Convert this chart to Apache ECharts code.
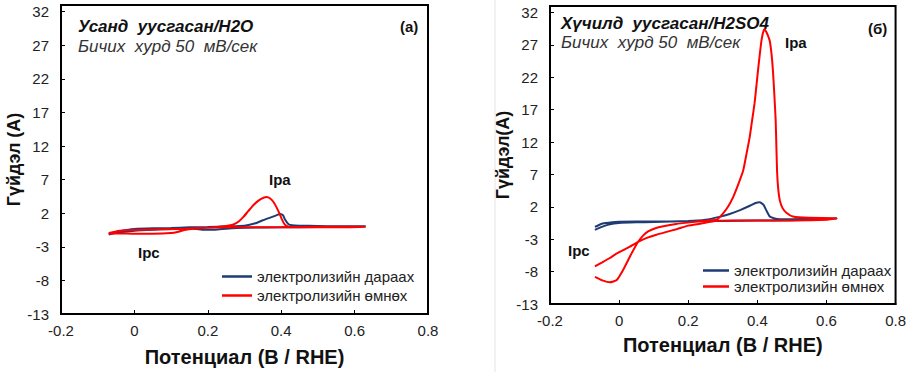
<!DOCTYPE html>
<html>
<head>
<meta charset="utf-8">
<script src="https://cdn.jsdelivr.net/npm/echarts@6/dist/echarts.min.js"></script>
<style>
html,body{margin:0;padding:0;background:#fff;}
#chart{width:909px;height:372px;}
</style>
</head>
<body>
<div id="chart"></div>
<script>
// ---- Data ----
const seriesNames = ['электролизийн дараах', 'электролизийн өмнөх'];
const yTicks = [-13, -8, -3, 2, 7, 12, 17, 22, 27, 32];
const xTicks = [-0.2, 0, 0.2, 0.4, 0.6, 0.8];

// (a) Усанд уусгасан / H2O — after electrolysis
const h2oAfter = [
  [-0.07,-1.1],[-0.05,-0.8],[-0.02,-0.5],[0,-0.35],[0.05,-0.25],[0.1,-0.2],[0.15,-0.1],[0.2,-0.05],
  [0.25,0.05],[0.3,0.15],[0.33,0.5],[0.35,0.95],[0.37,1.35],[0.385,1.65],[0.397,1.9],[0.405,1.7],
  [0.41,1.1],[0.42,0.35],[0.43,0.2],[0.45,0.15],[0.5,0.1],[0.55,0.05],[0.63,0.05],
  [0.6,0.0],[0.5,-0.05],[0.4,-0.1],[0.3,-0.15],[0.25,-0.3],[0.22,-0.45],[0.19,-0.45],[0.16,-0.3],
  [0.1,-0.35],[0.05,-0.45],[0,-0.6],[-0.04,-0.85],[-0.07,-1.15]
];
// (a) before electrolysis
const h2oBefore = [
  [-0.07,-0.95],[-0.05,-0.7],[-0.02,-0.55],[0,-0.5],[0.05,-0.42],[0.09,-0.37],[0.14,-0.3],[0.2,-0.15],
  [0.25,0.1],[0.27,0.33],[0.285,0.8],[0.297,1.45],[0.31,2.3],[0.324,3.2],[0.34,3.95],[0.352,4.3],
  [0.36,4.4],[0.37,4.2],[0.38,3.6],[0.388,2.8],[0.395,2.0],[0.401,1.2],[0.41,0.3],[0.42,0.0],
  [0.45,-0.05],[0.55,0.0],[0.63,0.0],
  [0.55,-0.1],[0.45,-0.1],[0.35,-0.1],[0.25,-0.1],[0.2,-0.15],[0.16,-0.3],[0.14,-0.45],[0.12,-0.75],
  [0.1,-0.95],[0.05,-1.05],[0,-1.05],[-0.04,-1.0],[-0.07,-1.0]
];
// (б) Хүчилд уусгасан / H2SO4 — after electrolysis
const h2so4After = [
  [-0.07,-1.55],[-0.05,-1.1],[-0.03,-0.75],[0,-0.5],[0.05,-0.4],[0.1,-0.35],[0.2,-0.2],[0.25,0.0],
  [0.29,0.45],[0.32,0.9],[0.35,1.5],[0.38,2.2],[0.395,2.6],[0.407,2.7],[0.418,2.3],[0.426,1.45],
  [0.436,0.5],[0.45,0.2],[0.465,0.1],[0.5,0.1],[0.63,0.2],
  [0.55,0.0],[0.45,-0.1],[0.35,-0.15],[0.25,-0.2],[0.15,-0.25],[0.05,-0.25],[0,-0.3],[-0.03,-0.45],
  [-0.05,-0.6],[-0.07,-1.1]
];
// (б) before electrolysis
const h2so4Before = [
  [-0.07,-8.8],[-0.046,-9.4],[-0.027,-9.65],[-0.007,-9.3],[0.012,-7.7],[0.031,-5.7],[0.055,-3.4],
  [0.07,-2.4],[0.084,-1.8],[0.105,-1.3],[0.128,-1.0],[0.165,-0.65],[0.205,-0.4],[0.25,-0.15],[0.282,0.0],
  [0.301,1.0],[0.315,2.0],[0.33,3.5],[0.345,5.5],[0.359,7.6],[0.368,10],[0.378,12.8],[0.385,15.4],
  [0.392,18],[0.397,20.5],[0.402,23.1],[0.407,25.5],[0.412,27.7],[0.417,29.0],[0.421,29.4],[0.426,29.0],
  [0.431,28.4],[0.436,27.6],[0.441,25.6],[0.445,23.1],[0.449,19.5],[0.453,15.4],[0.455,11.5],[0.457,7.6],
  [0.46,5.0],[0.465,3.0],[0.473,1.8],[0.484,1.1],[0.503,0.5],[0.55,0.3],[0.63,0.25],
  [0.6,0.0],[0.5,-0.1],[0.4,-0.1],[0.33,-0.1],[0.282,-0.15],[0.234,-0.6],[0.2,-0.9],[0.166,-1.45],
  [0.135,-1.9],[0.108,-2.3],[0.08,-2.8],[0.055,-3.4],[0.03,-4.2],[0.012,-4.7],[-0.01,-5.3],
  [-0.027,-5.9],[-0.05,-6.6],[-0.07,-7.2]
];

// ---- Chart ----
const FONT = '"Liberation Sans", Arial, sans-serif';
const BLUE = '#1f3b73';
const RED = '#ff0000';

function xAxisCfg(gridIndex, gap) {
  return {
    type: 'value', gridIndex, min: -0.2, max: 0.8,
    name: 'Потенциал (В / RHE)', nameLocation: 'middle', nameGap: gap,
    nameTextStyle: { fontFamily: FONT, fontWeight: 'bold', fontSize: 20, color: '#111' },
    axisLine: { show: true, onZero: false, lineStyle: { color: '#000', width: 2 } },
    axisTick: { show: true, inside: true, length: 4, customValues: xTicks, lineStyle: { color: '#000' } },
    axisLabel: { customValues: xTicks, margin: 9, fontFamily: FONT, fontSize: 15, color: '#222',
      formatter: v => String(Math.round(v * 10) / 10) },
    splitLine: { show: false }
  };
}
function yAxisCfg(gridIndex, name, gap) {
  return {
    type: 'value', gridIndex, min: -13, max: 33,
    name, nameLocation: 'middle', nameGap: gap, nameRotate: 90,
    nameTextStyle: { fontFamily: FONT, fontWeight: 'bold', fontSize: 18, color: '#111' },
    axisLine: { show: true, onZero: false, lineStyle: { color: '#000', width: 2 } },
    axisTick: { show: true, inside: true, length: 4, customValues: yTicks, lineStyle: { color: '#000' } },
    axisLabel: { customValues: yTicks, margin: 12, fontFamily: FONT, fontSize: 15, color: '#222' },
    splitLine: { show: false }
  };
}
function lineSeries(name, data, color, idx) {
  return {
    name, type: 'line', data, xAxisIndex: idx, yAxisIndex: idx,
    symbol: 'none', smooth: 0.15, color,
    lineStyle: { color, width: 2 }
  };
}
function txt(x, y, text, font, color) {
  return { type: 'text', x, y, silent: true,
    style: { text, font, fill: color || '#111', verticalAlign: 'middle', align: 'left' } };
}

const chart = echarts.init(document.getElementById('chart'), null, { renderer: 'svg' });
chart.setOption({
  animation: false,
  backgroundColor: '#fff',
  grid: [
    { left: 61, top: 5, width: 367, height: 309, show: true, borderColor: '#000', borderWidth: 2 },
    { left: 550, top: 6, width: 346, height: 298, show: true, borderColor: '#000', borderWidth: 2 }
  ],
  xAxis: [xAxisCfg(0, 33), xAxisCfg(1, 31)],
  yAxis: [yAxisCfg(0, 'Гүйдэл (A)', 29), yAxisCfg(1, 'Гүйдэл(A)', 28)],
  legend: [
    { left: 217, top: 264, orient: 'vertical', icon: 'rect', itemWidth: 30, itemHeight: 2.5, itemGap: 4,
      data: seriesNames, textStyle: { fontFamily: FONT, fontSize: 15, color: '#222' } },
    { left: 698, top: 258, orient: 'vertical', icon: 'rect', itemWidth: 26, itemHeight: 2.5, itemGap: 1,
      data: seriesNames, textStyle: { fontFamily: FONT, fontSize: 15, color: '#222' } }
  ],
  series: [
    lineSeries(seriesNames[0], h2oAfter, BLUE, 0),
    lineSeries(seriesNames[1], h2oBefore, RED, 0),
    lineSeries(seriesNames[0], h2so4After, BLUE, 1),
    lineSeries(seriesNames[1], h2so4Before, RED, 1)
  ],
  graphic: [
    { type: 'line', silent: true, shape: { x1: 495, y1: 0, x2: 495, y2: 372 }, style: { stroke: '#e4e4e4', lineWidth: 1 } },
    txt(78, 26, 'Усанд  уусгасан/H2O', 'italic bold 17px ' + FONT),
    txt(78, 46, 'Бичих  хурд 50  мВ/сек', 'italic 17px ' + FONT, '#333'),
    txt(400, 26, '(a)', 'bold 15px ' + FONT),
    txt(269, 179, 'Ipa', 'bold 15px ' + FONT),
    txt(138, 252, 'Ipc', 'bold 15px ' + FONT),
    txt(561, 23, 'Хүчилд  уусгасан/H2SO4', 'italic bold 17px ' + FONT),
    txt(561, 42, 'Бичих  хурд 50  мВ/сек', 'italic 17px ' + FONT, '#333'),
    txt(868, 28, '(б)', 'bold 15px ' + FONT),
    txt(785, 42, 'Ipa', 'bold 15px ' + FONT),
    txt(568, 250, 'Ipc', 'bold 15px ' + FONT)
  ]
});
</script>
</body>
</html>
